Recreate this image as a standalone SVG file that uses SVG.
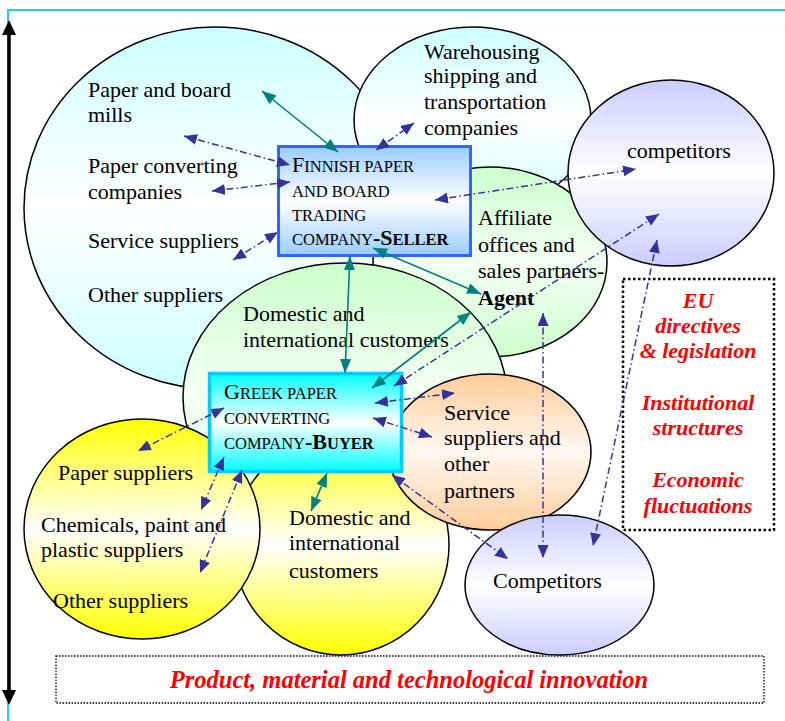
<svg xmlns="http://www.w3.org/2000/svg" width="785" height="721" viewBox="0 0 785 721">
<defs>
<style>
.lbl{font-family:"Liberation Serif","Times New Roman",serif;font-size:22px;fill:#000}
.red{font-family:"Liberation Serif","Times New Roman",serif;font-size:22px;font-weight:bold;font-style:italic;fill:#ff0000;text-anchor:middle}
.sc{font-size:16.5px}
.ell{stroke:#000;stroke-width:1.5}
.teal{stroke:#008080;stroke-width:1.6;fill:none;marker-start:url(#ta);marker-end:url(#ta)}
.blue{stroke:#333399;stroke-width:1.5;fill:none;stroke-dasharray:7 3 1.5 3;marker-start:url(#ba);marker-end:url(#ba)}
</style>
<linearGradient id="gCyan" x1="0" y1="0" x2="0" y2="1"><stop offset="0" stop-color="#ccffff"/><stop offset="0.5" stop-color="#ffffff"/><stop offset="1" stop-color="#ccffff"/></linearGradient>
<linearGradient id="gGreen" x1="0" y1="0" x2="0" y2="1"><stop offset="0" stop-color="#ccffcc"/><stop offset="0.5" stop-color="#f4fff4"/><stop offset="1" stop-color="#ccffcc"/></linearGradient>
<linearGradient id="gLav" x1="0" y1="0" x2="0" y2="1"><stop offset="0" stop-color="#ccccff"/><stop offset="0.5" stop-color="#ffffff"/><stop offset="1" stop-color="#ccccff"/></linearGradient>
<linearGradient id="gOrange" x1="0" y1="0" x2="0" y2="1"><stop offset="0" stop-color="#ffcc99"/><stop offset="0.5" stop-color="#fff8f2"/><stop offset="1" stop-color="#ffcc99"/></linearGradient>
<linearGradient id="gYellow" x1="0" y1="0" x2="0" y2="1"><stop offset="0" stop-color="#ffff00"/><stop offset="0.5" stop-color="#ffffff"/><stop offset="1" stop-color="#ffff00"/></linearGradient>
<linearGradient id="gSeller" x1="0" y1="0" x2="0" y2="1"><stop offset="0" stop-color="#99ccff"/><stop offset="0.5" stop-color="#ffffff"/><stop offset="1" stop-color="#99ccff"/></linearGradient>
<linearGradient id="gBuyer" x1="0" y1="0" x2="0" y2="1"><stop offset="0" stop-color="#00ffff"/><stop offset="0.5" stop-color="#ffffff"/><stop offset="1" stop-color="#00ffff"/></linearGradient>
<marker id="ta" markerUnits="userSpaceOnUse" markerWidth="14" markerHeight="11" refX="14" refY="5.5" orient="auto-start-reverse"><path d="M0,0 L14,5.5 L0,11 z" fill="#008080"/></marker>
<marker id="ba" markerUnits="userSpaceOnUse" markerWidth="13" markerHeight="11" refX="13" refY="5.5" orient="auto-start-reverse"><path d="M0,0 L13,5.5 L0,11 z" fill="#333399"/></marker>
</defs>
<rect width="785" height="721" fill="#ffffff"/>
<path d="M8,721 L8,10 L785,10" fill="none" stroke="#22ccff" stroke-width="2"/>
<g id="timeline">
<line x1="9" y1="34" x2="9" y2="691" stroke="#000" stroke-width="3.5"/>
<polygon points="2,35 9,20 16,35" fill="#000"/>
<polygon points="2,690 9,705 16,690" fill="#000"/>
</g>
<g id="n-finnish-suppliers"><ellipse class="ell" cx="215" cy="208" rx="191" ry="181" fill="url(#gCyan)"/>
<text class="lbl" x="88" y="97">Paper and board</text><text class="lbl" x="88" y="122">mills</text>
<text class="lbl" x="88" y="173">Paper converting</text><text class="lbl" x="88" y="199">companies</text>
<text class="lbl" x="88" y="248">Service suppliers</text>
<text class="lbl" x="88" y="302">Other suppliers</text></g>
<g id="n-warehousing"><ellipse class="ell" cx="472.5" cy="120" rx="118.5" ry="93" fill="url(#gCyan)"/>
<text class="lbl" x="424" y="59">Warehousing</text><text class="lbl" x="424" y="83">shipping and</text><text class="lbl" x="424" y="109">transportation</text><text class="lbl" x="424" y="135">companies</text></g>
<g id="n-affiliate"><ellipse class="ell" cx="490" cy="262" rx="117" ry="95" fill="url(#gGreen)"/>
<text class="lbl" x="478" y="225">Affiliate</text><text class="lbl" x="478" y="252">offices and</text><text class="lbl" x="478" y="278">sales partners-</text><text class="lbl" x="478" y="305" font-weight="bold">Agent</text></g>
<g id="n-competitors-top"><ellipse class="ell" cx="671" cy="173" rx="103" ry="93" fill="url(#gLav)"/>
<text class="lbl" x="627" y="158">competitors</text></g>
<g id="n-domestic-green"><ellipse class="ell" cx="345" cy="397" rx="162" ry="134" fill="url(#gGreen)"/>
<text class="lbl" x="243" y="321">Domestic and</text><text class="lbl" x="243" y="347">international customers</text></g>
<g id="n-domestic-yellow"><ellipse class="ell" cx="341" cy="545" rx="108" ry="110" fill="url(#gYellow)"/>
<text class="lbl" x="289" y="525">Domestic and</text><text class="lbl" x="289" y="550">international</text><text class="lbl" x="289" y="578">customers</text></g>
<g id="n-service-partners"><ellipse class="ell" cx="490" cy="452" rx="101" ry="78" fill="url(#gOrange)"/>
<text class="lbl" x="444" y="420">Service</text><text class="lbl" x="444" y="445">suppliers and</text><text class="lbl" x="444" y="471">other</text><text class="lbl" x="444" y="498">partners</text></g>
<g id="n-greek-suppliers"><ellipse class="ell" cx="142" cy="529" rx="118" ry="110" fill="url(#gYellow)"/>
<text class="lbl" x="58" y="480">Paper suppliers</text>
<text class="lbl" x="41" y="532">Chemicals, paint and</text><text class="lbl" x="41" y="557">plastic suppliers</text>
<text class="lbl" x="53" y="608">Other suppliers</text></g>
<g id="n-competitors-bottom"><ellipse class="ell" cx="559.5" cy="585" rx="94.5" ry="70" fill="url(#gLav)"/>
<text class="lbl" x="493" y="588">Competitors</text></g>
<g id="n-seller"><rect x="278.5" y="146.5" width="192" height="109" fill="url(#gSeller)" stroke="#3366ff" stroke-width="3"/>
<text class="lbl" x="292" y="172">F<tspan class="sc">INNISH PAPER</tspan></text>
<text class="lbl sc" x="292" y="197">AND BOARD</text>
<text class="lbl sc" x="292" y="221">TRADING</text>
<text class="lbl" x="292" y="245"><tspan class="sc">COMPANY</tspan><tspan font-weight="bold">-S</tspan><tspan class="sc" font-weight="bold">ELLER</tspan></text></g>
<g id="n-buyer"><rect x="209.5" y="373.5" width="192" height="98" fill="url(#gBuyer)" stroke="#00ccff" stroke-width="3.5"/>
<text class="lbl" x="224" y="399">G<tspan class="sc">REEK PAPER</tspan></text>
<text class="lbl sc" x="224" y="424">CONVERTING</text>
<text class="lbl" x="224" y="449"><tspan class="sc">COMPANY</tspan><tspan font-weight="bold">-B</tspan><tspan class="sc" font-weight="bold">UYER</tspan></text></g>
<g id="n-environment"><rect x="623" y="279" width="151" height="251" fill="none" stroke="#000" stroke-width="2.5" stroke-dasharray="2.5 2.5"/>
<text class="red" x="698" y="308">EU</text><text class="red" x="698" y="333">directives</text><text class="red" x="698" y="358">&amp; legislation</text>
<text class="red" x="698" y="410">Institutional</text><text class="red" x="698" y="435">structures</text>
<text class="red" x="698" y="487">Economic</text><text class="red" x="698" y="513">fluctuations</text></g>
<g id="n-innovation"><rect x="56" y="656" width="708" height="47" fill="none" stroke="#000" stroke-width="1.3" stroke-dasharray="1.5 1.5"/>
<text class="red" x="409" y="688" style="font-size:24.5px">Product, material and technological innovation</text></g>
<g id="connectors">
<path class="teal" d="M262,91 L338,152"/>
<path class="teal" d="M350,256 L345,373"/>
<path class="teal" d="M373,248 L481,294"/>
<path class="teal" d="M372,388 L471,312"/>
<path class="teal" d="M327,473 L311,511"/>
<path class="blue" d="M184,136 L290,165"/>
<path class="blue" d="M212,191 L290,182"/>
<path class="blue" d="M233,260 L278,232"/>
<path class="blue" d="M376,150 L414,123"/>
<path class="blue" d="M435,200 L636,169"/>
<path class="blue" d="M394,386 L659,214"/>
<path class="blue" d="M543,313 L543,558"/>
<path class="blue" d="M657,240 L593,546"/>
<path class="blue" d="M375,403 L455,393"/>
<path class="blue" d="M373,418 L432,437"/>
<path class="blue" d="M392,475 L508,559"/>
<path class="blue" d="M224,408 L138,451"/>
<path class="blue" d="M224,457 L201,510"/>
<path class="blue" d="M242,470 L200,573"/>
</g>
</svg>
